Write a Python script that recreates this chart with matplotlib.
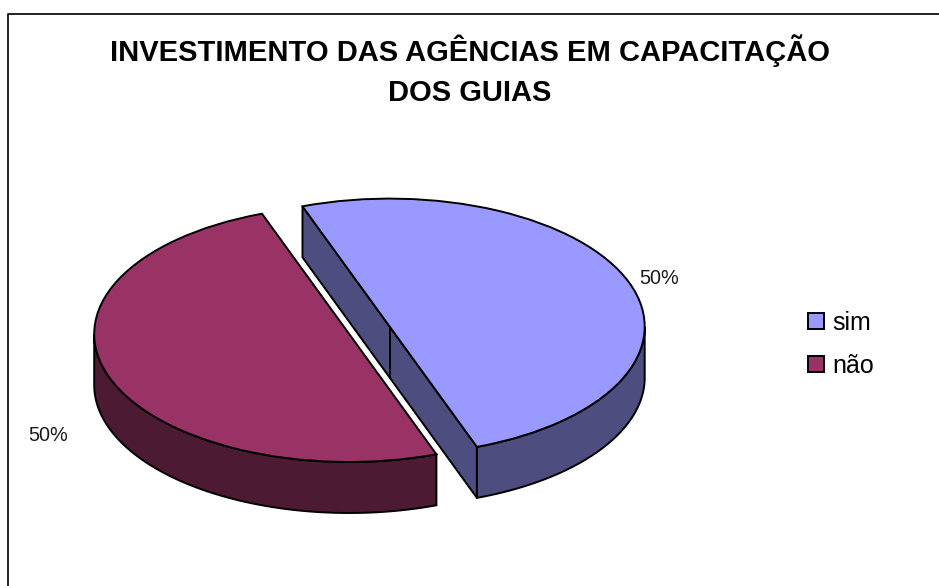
import numpy as np
from matplotlib import pyplot as plt
from matplotlib.lines import Line2D
from matplotlib.patches import Polygon

# Chart values
categories = ['sim', 'não']
values = [50, 50]
title = 'INVESTIMENTO DAS AGÊNCIAS EM CAPACITAÇÃO\nDOS GUIAS'

top_colors = ['#9999FF', '#993366']
side_colors = ['#4D4D80', '#4D1A33']

W, H = 939, 586
# Pixel position of the unexploded pie centre, and pie size in pixels
CX, CY = 349.2, 334
RX, RY = 255, 128
DEPTH = 51 / RY
LW = 1.4

plt.rcParams['font.family'] = ['Liberation Sans', 'DejaVu Sans']

fig = plt.figure(figsize=(W / 100, H / 100), dpi=100)
ax = fig.add_axes([0, 0, 1, 1])

wedges, texts, autotexts = ax.pie(
    values, colors=top_colors, explode=[0.169, 0], startangle=110,
    counterclock=False, autopct='%.0f%%', pctdistance=1.0,
    wedgeprops={'edgecolor': 'black', 'linewidth': LW},
    textprops={'fontsize': 14.3, 'color': '#1a1a1a'},
)

# Squash the round pie into the tilted ellipse
ax.set_aspect('auto')
ax.set_xlim(-CX / RX, (W - CX) / RX)
ax.set_ylim((CY - H) / RY, CY / RY)
ax.axis('off')


def side_wall(wedge, color, zorder):
    """Curved outer wall below the part of the wedge that faces the viewer."""
    cx, cy = wedge.center
    a0 = max(wedge.theta1, -180)
    a1 = min(wedge.theta2, 0)
    t = np.radians(np.linspace(a0, a1, 120))
    xs = cx + np.cos(t)
    ys = cy + np.sin(t)
    upper = np.column_stack([xs, ys])
    lower = np.column_stack([xs, ys - DEPTH])[::-1]
    ax.add_patch(Polygon(np.vstack([upper, lower]), closed=True, facecolor=color,
                         edgecolor='black', linewidth=LW, zorder=zorder))


def cut_face(wedge, color, zorder):
    """Flat face left open by pulling the slice out of the pie."""
    cx, cy = wedge.center
    ends = np.radians([wedge.theta2, wedge.theta1])
    xs = cx + np.cos(ends)
    ys = cy + np.sin(ends)
    corners = [(xs[0], ys[0]), (xs[1], ys[1]), (xs[1], ys[1] - DEPTH), (xs[0], ys[0] - DEPTH)]
    ax.add_patch(Polygon(corners, closed=True, facecolor=color,
                         edgecolor='black', linewidth=LW, zorder=zorder))
    ax.plot([cx, cx], [cy, cy - DEPTH], color='black', linewidth=LW, zorder=zorder)


# Back to front: exploded slice first, the other one over it
cut_face(wedges[0], side_colors[0], 1)
side_wall(wedges[0], side_colors[0], 1.5)
wedges[0].set_zorder(2)
side_wall(wedges[1], side_colors[1], 3)
wedges[1].set_zorder(4)

# Percent labels sit outside the pie
autotexts[0].set_position(((659 - CX) / RX, (CY - 278) / RY))
autotexts[1].set_position(((48 - CX) / RX, (CY - 435.5) / RY))

fig.text(469.5 / W, 1 - 34 / H, title, ha='center', va='top', fontsize=21,
         fontweight='bold', color='black', linespacing=1.57)

ax.legend(wedges, categories, loc='upper left', bbox_to_anchor=(807.5 / W, 1 - 311 / H),
          frameon=False, fontsize=18, handlelength=0.64, handleheight=0.64,
          handletextpad=0.36, labelspacing=0.75, borderpad=0, borderaxespad=0)

# Chart border, only top and left are inside the picture
fig.add_artist(Line2D([7.5 / W, 7.5 / W, 1], [0, 1 - 13.5 / H, 1 - 13.5 / H],
                      color='#111111', linewidth=1.3))

fig.savefig('out.png', dpi=100)
